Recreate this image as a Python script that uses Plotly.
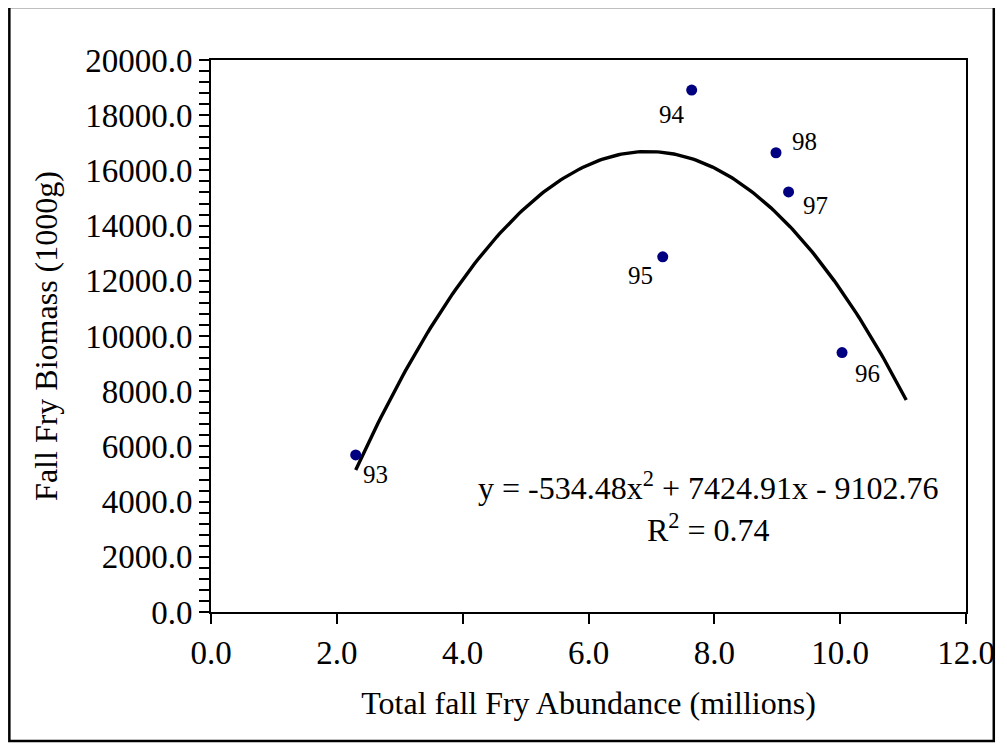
import numpy as np
import plotly.graph_objects as go

# Data
years = ["93", "94", "95", "96", "97", "98"]
abundance = [2.30, 7.64, 7.18, 10.03, 9.18, 8.98]          # millions
biomass = [5690, 18910, 12870, 9400, 15220, 16640]         # 1000 g

# Polynomial trendline (order 2) coefficients shown on chart
trend_coef = [-534.48, 7424.91, -9102.76]
trend_r2 = 0.74
trend_x_range = [2.30, 11.05]

# Label offsets (pixels) for the year labels
label_dx = [20, -20, -22, 25, 27, 29]
label_dy = [-20, -24, -19, -21, -14, 11]

FONT = "Liberation Serif, Times New Roman, serif"

tx = np.linspace(trend_x_range[0], trend_x_range[1], 200)
ty = np.polyval(trend_coef, tx)

fig = go.Figure()
fig.add_trace(go.Scatter(x=tx, y=ty, mode="lines",
                         line=dict(color="black", width=3.4),
                         hoverinfo="skip", showlegend=False))
fig.add_trace(go.Scatter(x=abundance, y=biomass, mode="markers",
                         marker=dict(color="#000080", size=11),
                         showlegend=False))

for x, y, t, dx, dy in zip(abundance, biomass, years, label_dx, label_dy):
    fig.add_annotation(x=x, y=y, text=t, showarrow=False,
                       xshift=dx, yshift=dy,
                       font=dict(family=FONT, size=25, color="black"))

eq = (f"y = {trend_coef[0]:.2f}x<sup>2</sup> + {trend_coef[1]:.2f}x - {abs(trend_coef[2]):.2f}"
      f"<br>R<sup>2</sup> = {trend_r2:.2f}")
fig.add_annotation(x=0.659, y=0.112, xref="paper", yref="paper", text=eq,
                   showarrow=False, align="center",
                   font=dict(family=FONT, size=32, color="black"))

# outer chart border
fig.add_shape(type="rect", xref="paper", yref="paper",
              x0=-0.2671, x1=1.0368, y0=-0.2337, y1=1.096,
              line=dict(color="black", width=2.5))

axis_common = dict(showline=True, linecolor="black", linewidth=2, mirror=True,
                   showgrid=False, zeroline=False, ticks="outside",
                   tickcolor="black", tickwidth=2, ticklen=10,
                   tickfont=dict(family=FONT, size=33, color="black"),
                   tickformat=".1f")

fig.update_xaxes(range=[0, 12], dtick=2, tick0=0,
                 title=dict(text="Total fall Fry Abundance (millions)",
                            font=dict(family=FONT, size=32, color="black"),
                            standoff=22),
                 **axis_common)
fig.update_yaxes(range=[0, 20000], dtick=2000, tick0=0,
                 minor=dict(ticks="outside", dtick=400, ticklen=10,
                            tickwidth=2, tickcolor="black"),
                 title=dict(text="Fall Fry Biomass (1000g)",
                            font=dict(family=FONT, size=32, color="black"),
                            standoff=18),
                 **axis_common)

fig.update_layout(width=999, height=740,
                  margin=dict(l=203, r=36, t=52, b=136),
                  paper_bgcolor="white", plot_bgcolor="white",
                  font=dict(family=FONT, color="black"))

fig.write_html("out.html")
